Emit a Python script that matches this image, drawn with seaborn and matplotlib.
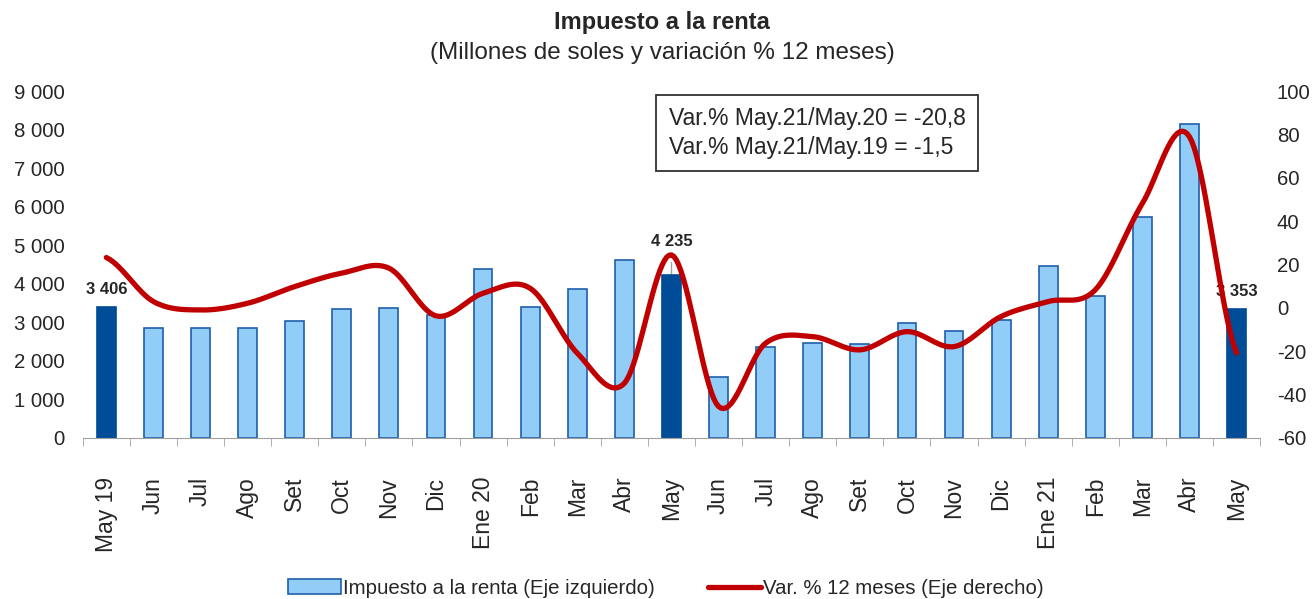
import numpy as np
import matplotlib
matplotlib.use("Agg")
import matplotlib.pyplot as plt
from matplotlib.patches import Patch
from matplotlib.lines import Line2D
import seaborn as sns

# datos
meses = ["May 19", "Jun", "Jul", "Ago", "Set", "Oct", "Nov", "Dic", "Ene 20", "Feb",
         "Mar", "Abr", "May", "Jun", "Jul", "Ago", "Set", "Oct", "Nov", "Dic",
         "Ene 21", "Feb", "Mar", "Abr", "May"]
impuesto = [3406, 2860, 2845, 2840, 3025, 3345, 3380, 3190, 4375, 3405,
            3855, 4615, 4235, 1590, 2370, 2470, 2430, 2975, 2785, 3060,
            4470, 3685, 5740, 8135, 3353]
variacion = [23.2, 2.9, -1.0, 2.1, 9.8, 16.0, 18.3, -3.7, 6.7, 9.0,
             -20.9, -34.8, 24.4, -45.5, -16.3, -13.3, -19.4, -11.0, -17.9, -4.0,
             2.9, 8.3, 48.2, 78.9, -20.8]
destacados = [0, 12, 24]  # meses de mayo resaltados

azul_claro = "#92CDF8"
azul_borde = "#1F5FAA"
azul_oscuro = "#004C97"
rojo = "#C00000"

sns.set_style("white")
plt.rcParams["font.family"] = ["Liberation Sans", "DejaVu Sans"]

fig = plt.figure(figsize=(13.14, 5.99), dpi=100)
ax = fig.add_axes([0.063, 0.269, 0.896, 0.579])

n = len(meses)
pos = np.arange(n)
colores = [azul_oscuro if i in destacados else azul_claro for i in pos]
sns.barplot(x=pos, y=impuesto, hue=pos, palette=colores, legend=False, saturation=1,
            width=0.4, ax=ax, edgecolor=azul_borde, linewidth=1.2, zorder=2)
for i, bar in enumerate(ax.patches):
    if i in destacados:
        bar.set_edgecolor(azul_oscuro)

ax.set_ylim(0, 9000)
ax.set_xlim(-0.5, n - 0.5)
ax.set_yticks(range(0, 9001, 1000))
ax.set_yticklabels([f"{v:,}".replace(",", " ") for v in range(0, 9001, 1000)], fontsize=14.7)
ax.set_xticks(pos)
ax.set_xticklabels(meses, rotation=90, fontsize=16.5, va="top")
ax.set_xticks(np.arange(-0.5, n, 1), minor=True)
ax.tick_params(axis="x", which="major", length=0, pad=28)
ax.tick_params(axis="x", which="minor", length=6, color="#A0A0A0", direction="out", bottom=True)
ax.tick_params(axis="y", length=0, pad=13)
for s in ["top", "right", "left"]:
    ax.spines[s].set_visible(False)
ax.spines["bottom"].set_color("#A0A0A0")
ax.set_xlabel("")
ax.set_ylabel("")

# etiquetas de datos
ax.plot([12, 12], [4235, 4560], color="#A0A0A0", lw=1, zorder=1)
for i in destacados:
    yoff = 4900 if i == 12 else impuesto[i] + 260
    ax.text(i, yoff, f"{impuesto[i]:,}".replace(",", " "), ha="center", va="bottom",
            fontsize=12, fontweight="bold")

# eje derecho: linea suavizada (Catmull-Rom)
ax2 = ax.twinx()
xs, ys = [], []
p = np.array(variacion, dtype=float)
for k in range(n - 1):
    p0 = p[k - 1] if k > 0 else p[k]
    p1, p2 = p[k], p[k + 1]
    p3 = p[k + 2] if k + 2 < n else p[k + 1]
    for t in np.linspace(0, 1, 20, endpoint=False):
        xs.append(k + t)
        ys.append(0.5 * (2 * p1 + (-p0 + p2) * t + (2 * p0 - 5 * p1 + 4 * p2 - p3) * t ** 2
                         + (-p0 + 3 * p1 - 3 * p2 + p3) * t ** 3))
xs.append(n - 1)
ys.append(p[-1])
sns.lineplot(x=xs, y=ys, ax=ax2, color=rojo, linewidth=3.8, sort=False, zorder=3)
ax2.set_ylim(-60, 100)
ax2.set_yticks(range(-60, 101, 20))
ax2.set_yticklabels([str(v) for v in range(-60, 101, 20)], fontsize=14.7)
ax2.tick_params(axis="y", length=0, pad=12)
for s in ["top", "right", "left", "bottom"]:
    ax2.spines[s].set_visible(False)

# titulo
fig.text(0.504, 0.963, "Impuesto a la renta", ha="center", va="center", fontsize=17, fontweight="bold")
fig.text(0.504, 0.912, "(Millones de soles y variación % 12 meses)", ha="center", va="center", fontsize=17.5)

# recuadro
ax.text(0.509, 0.778, "Var.% May.21/May.20 = -20,8\nVar.% May.21/May.19 = -1,5",
        transform=fig.transFigure, ha="left", va="center", fontsize=16.5, linespacing=1.3,
        bbox=dict(boxstyle="square,pad=0.55", facecolor="white", edgecolor="#303030", linewidth=1.3))

# leyenda
handles = [Patch(facecolor=azul_claro, edgecolor=azul_borde, linewidth=1.2),
           Line2D([0], [0], color=rojo, linewidth=3.8)]
fig.legend(handles, ["Impuesto a la renta (Eje izquierdo)", "Var. % 12 meses (Eje derecho)"],
           loc="center", bbox_to_anchor=(0.507, 0.018), ncol=2, frameon=False, fontsize=14.7,
           handlelength=2.6, handletextpad=0.1, columnspacing=2.6)

fig.savefig("out.png", dpi=100)
